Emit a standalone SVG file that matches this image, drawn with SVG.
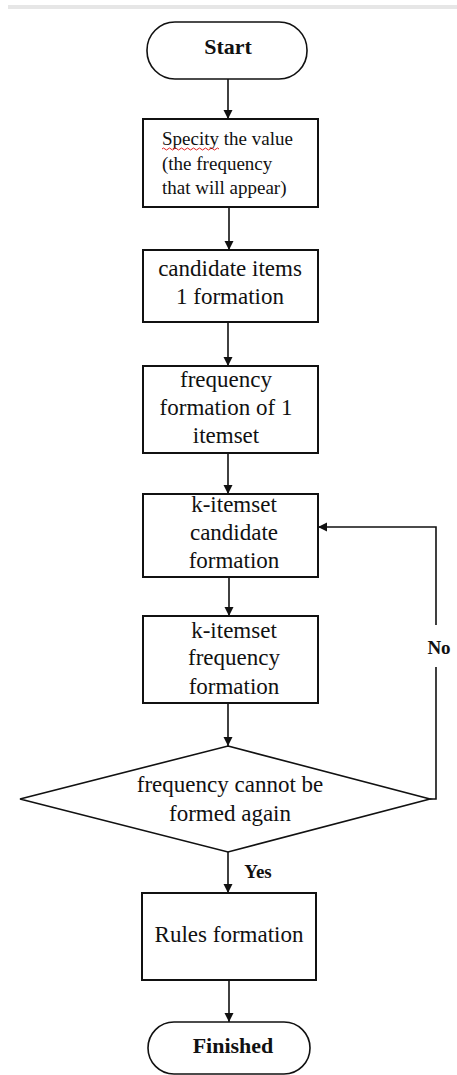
<svg xmlns="http://www.w3.org/2000/svg" width="457" height="1075" viewBox="0 0 457 1075">
<defs>
<marker id="ah" markerUnits="userSpaceOnUse" markerWidth="10" markerHeight="10" refX="9" refY="5" orient="auto">
<path d="M0,0.5 L9,5 L0,9.5 Z" fill="#111"/>
</marker>
<style>
.box{fill:#fff;stroke:#111;stroke-width:2}
.term{fill:#fff;stroke:#111;stroke-width:1.6}
.t{font-family:"Liberation Serif","Times New Roman",serif;fill:#111;text-anchor:middle}
.b{font-weight:bold}
.ln{fill:none;stroke:#111;stroke-width:1.6}
</style>
</defs>
<rect x="8" y="5" width="449" height="4" fill="#e6e6e6"/>
<g id="connectors">
<line class="ln" x1="228" y1="79" x2="228" y2="119" marker-end="url(#ah)"/>
<line class="ln" x1="229" y1="207" x2="229" y2="250" marker-end="url(#ah)"/>
<line class="ln" x1="228" y1="322" x2="228" y2="366" marker-end="url(#ah)"/>
<line class="ln" x1="228" y1="453" x2="228" y2="494" marker-end="url(#ah)"/>
<line class="ln" x1="229" y1="577" x2="229" y2="616" marker-end="url(#ah)"/>
<line class="ln" x1="228" y1="703" x2="228" y2="746" marker-end="url(#ah)"/>
<line class="ln" x1="228" y1="852" x2="228" y2="893" marker-end="url(#ah)"/>
<line class="ln" x1="229" y1="980" x2="229" y2="1022" marker-end="url(#ah)"/>
<polyline class="ln" points="430,799 436,799 436,667"/>
<polyline class="ln" points="436,625 436,527 318,527" marker-end="url(#ah)"/>
<text class="t b" x="439" y="654" font-size="19">No</text>
<text class="t b" x="258" y="878" font-size="19">Yes</text>
</g>
<g id="start">
<rect class="term" x="147" y="22" width="160" height="57" rx="28" ry="28"/>
<text class="t b" x="228" y="54" font-size="22">Start</text>
</g>
<g id="specify">
<rect class="box" x="143" y="119" width="175" height="88"/>
<text class="t" x="162" y="145" font-size="19" style="text-anchor:start">Specity the value</text>
<text class="t" x="162" y="170" font-size="19" style="text-anchor:start">(the frequency</text>
<text class="t" x="162" y="194" font-size="19" style="text-anchor:start">that will appear)</text>
<path d="M162,149 q1.5,-2 3,0 t3,0 t3,0 t3,0 t3,0 t3,0 t3,0 t3,0 t3,0 t3,0 t3,0 t3,0 t3,0 t3,0 t3,0 t3,0 t3,0 t3,0 t3,0" fill="none" stroke="#e02020" stroke-width="1"/>
</g>
<g id="candidate1">
<rect class="box" x="143" y="250" width="175" height="72"/>
<text class="t" x="230" y="276" font-size="23">candidate items</text>
<text class="t" x="230" y="304" font-size="23">1 formation</text>
</g>
<g id="frequency1">
<rect class="box" x="143" y="366" width="175" height="87"/>
<text class="t" x="226" y="387" font-size="23">frequency</text>
<text class="t" x="226" y="415" font-size="23">formation of 1</text>
<text class="t" x="226" y="443" font-size="23">itemset</text>
</g>
<g id="kcandidate">
<rect class="box" x="143" y="494" width="175" height="83"/>
<text class="t" x="234" y="512" font-size="23">k-itemset</text>
<text class="t" x="234" y="540" font-size="23">candidate</text>
<text class="t" x="234" y="568" font-size="23">formation</text>
</g>
<g id="kfrequency">
<rect class="box" x="143" y="616" width="175" height="87"/>
<text class="t" x="234" y="638" font-size="23">k-itemset</text>
<text class="t" x="234" y="665" font-size="23">frequency</text>
<text class="t" x="234" y="694" font-size="23">formation</text>
</g>
<g id="decision">
<polygon class="box" points="228,746 430,799 228,852 20,799" style="stroke-width:1.6"/>
<text class="t" x="230" y="792" font-size="23">frequency cannot be</text>
<text class="t" x="230" y="821" font-size="23">formed again</text>
</g>
<g id="rules">
<rect class="box" x="142" y="893" width="174" height="87"/>
<text class="t" x="229" y="942" font-size="23">Rules formation</text>
</g>
<g id="finished">
<rect class="term" x="148" y="1022" width="162" height="52" rx="26" ry="26"/>
<text class="t b" x="233" y="1053" font-size="22">Finished</text>
</g>
</svg>
